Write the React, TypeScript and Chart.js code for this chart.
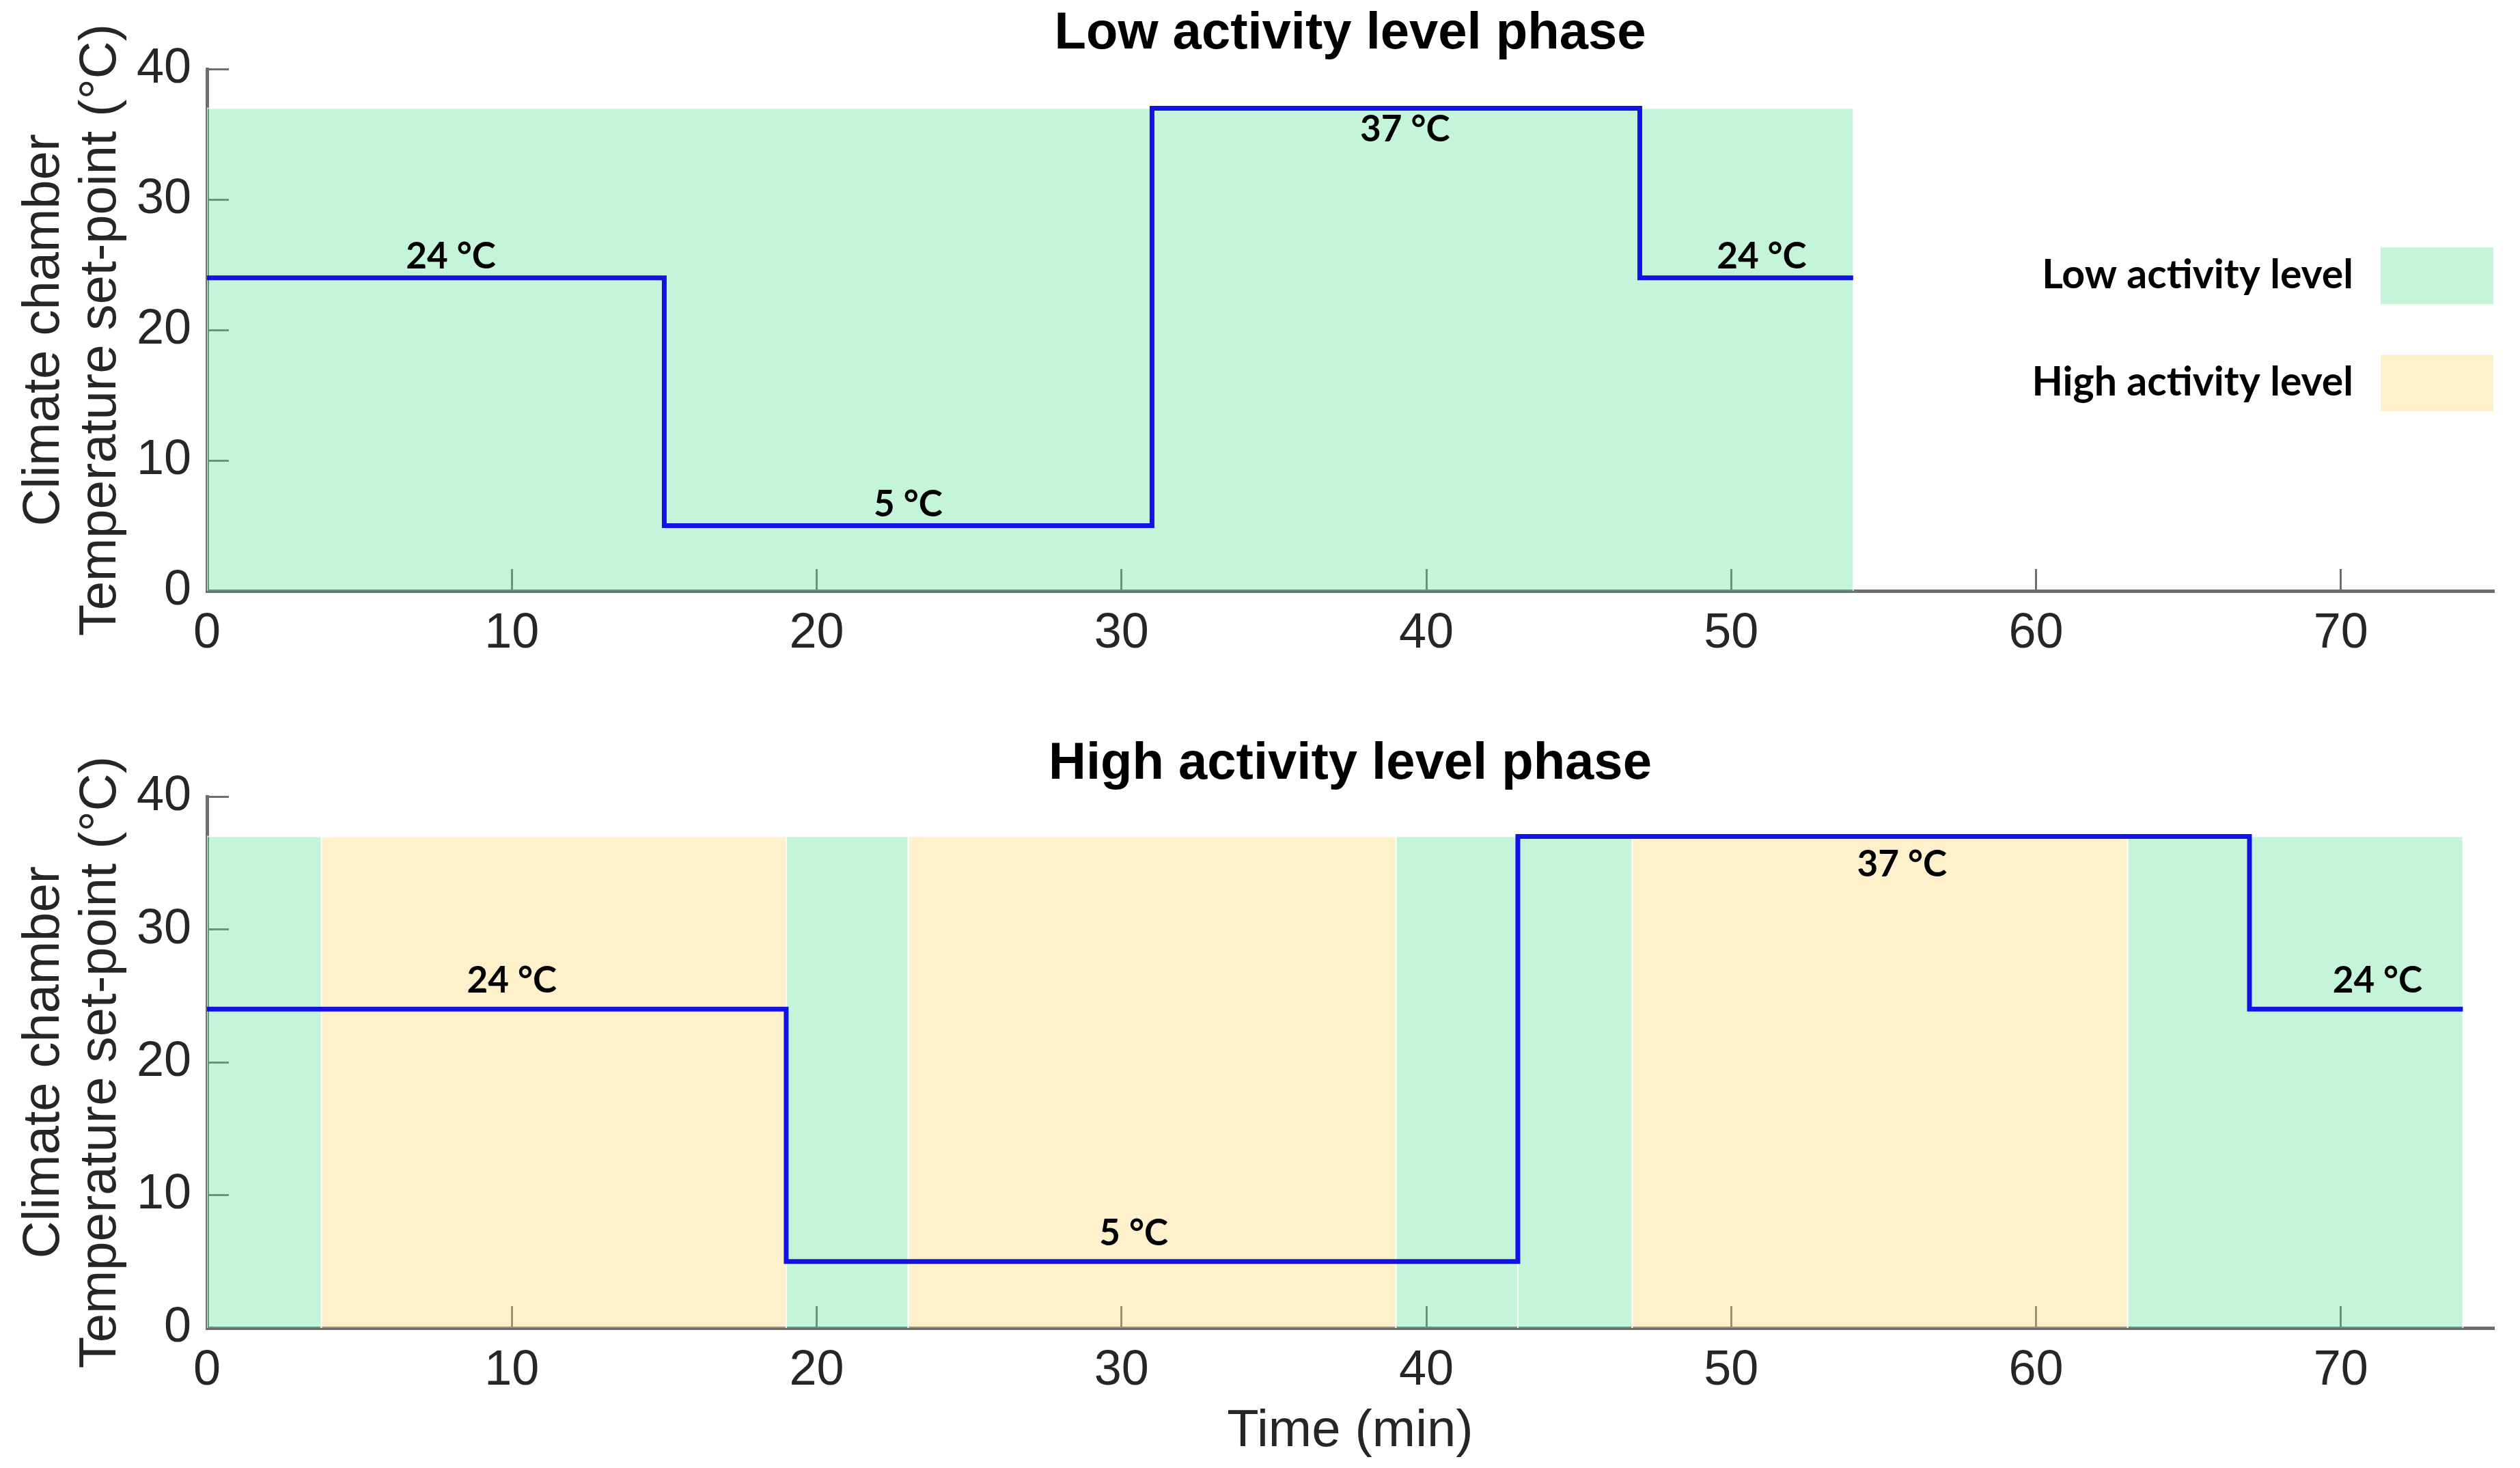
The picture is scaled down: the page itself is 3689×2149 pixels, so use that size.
import { useEffect, useRef } from "react";
import { Chart, registerables } from "chart.js";

Chart.register(...registerables);

// set-point schedule, low activity phase (minutes, °C)
const lowSegStart = [0, 15, 31, 47];
const lowSegEnd = [15, 31, 47, 54];
const lowTemps = [24, 5, 37, 24];
const lowLabelTimes = [8, 23, 39.3, 51];

// set-point schedule, high activity phase
const highSegStart = [0, 19, 43, 67];
const highSegEnd = [19, 43, 67, 74];
const highTemps = [24, 5, 37, 24];
const highLabelTimes = [10, 30.4, 55.6, 71.2];

// activity patches
const lowPhaseStart = [0];
const lowPhaseEnd = [54];
const lowPhaseKind = ["low"];
const highPhaseStart = [0, 3.75, 19, 23, 39, 43, 46.75, 63];
const highPhaseEnd = [3.75, 19, 23, 39, 43, 46.75, 63, 74];
const highPhaseKind = ["low", "high", "low", "high", "low", "low", "high", "low"];
const patchTop = 37;

const xTickStep = 10;
const yTickStep = 10;
const legendLabels = ["Low activity level", "High activity level"];

const W = 3689;
const TOP_H = 1010;
const BOT_H = 1139;

const ARIAL = "'Liberation Sans', Arial, sans-serif";
const CALIBRI = "Lato, 'Open Sans', sans-serif";
const GREEN = "rgba(86,226,149,0.35)";
const YELLOW = "rgba(255,212,109,0.35)";
const BLUE = "#1212e6";
const AXIS = "#6e6e6e";
const INK = "#262626";

function patchSets(starts: number[], ends: number[], kinds: string[]) {
  return starts.map((s, i) => ({
    type: "line" as const,
    data: [
      { x: s, y: 0 },
      { x: s, y: patchTop },
      { x: ends[i], y: patchTop },
      { x: ends[i], y: 0 },
    ],
    backgroundColor: kinds[i] === "low" ? GREEN : YELLOW,
    borderColor: "rgba(255,255,255,0.75)",
    borderWidth: 2,
    fill: "origin",
    pointRadius: 0,
    tension: 0,
    order: 2,
  }));
}

function stepSet(starts: number[], ends: number[], temps: number[]) {
  const pts: { x: number; y: number }[] = [];
  starts.forEach((s, i) => {
    pts.push({ x: s, y: temps[i] });
    pts.push({ x: ends[i], y: temps[i] });
  });
  return {
    type: "line" as const,
    data: pts,
    borderColor: BLUE,
    borderWidth: 7,
    borderJoinStyle: "miter" as const,
    fill: false,
    pointRadius: 0,
    tension: 0,
    order: 0,
  };
}

function labelPlugin(times: number[], temps: number[], gap: number) {
  return {
    id: "stepLabels",
    afterDatasetsDraw(chart: any) {
      const { ctx, scales } = chart;
      ctx.save();
      ctx.font = `bold 53px ${CALIBRI}`;
      ctx.fillStyle = "#000";
      ctx.textAlign = "center";
      ctx.textBaseline = "middle";
      const maxT = Math.max(...temps);
      temps.forEach((t, i) => {
        const px = scales.x.getPixelForValue(times[i]);
        const py = scales.y.getPixelForValue(t);
        // the highest level sits right under the patch top, so its label goes below the line
        ctx.fillText(`${t} °C`, px, t === maxT ? py + gap : py - gap);
      });
      ctx.restore();
    },
  };
}

const legendPlugin = {
  id: "phaseLegend",
  afterDraw(chart: any) {
    const { ctx, chartArea } = chart;
    const colors = [GREEN, YELLOW];
    ctx.save();
    ctx.font = `bold 59px ${CALIBRI}`;
    ctx.textAlign = "right";
    ctx.textBaseline = "middle";
    legendLabels.forEach((label, i) => {
      const cy = chartArea.top + 302 + i * 157;
      ctx.fillStyle = colors[i];
      ctx.fillRect(chartArea.right - 165, cy - 41, 165, 83);
      ctx.fillStyle = "#000";
      ctx.fillText(label, chartArea.right - 205, cy);
    });
    ctx.restore();
  },
};

function makeOptions(title: string, titlePad: { top: number; bottom: number }, xHeight: number, xTitle?: string) {
  const tickFont = { family: ARIAL, size: 72 };
  return {
    responsive: false,
    animation: false as const,
    devicePixelRatio: 1,
    layout: { padding: { left: 0, right: 39, top: 0, bottom: 0 } },
    plugins: {
      legend: { display: false },
      tooltip: { enabled: false },
      title: {
        display: true,
        text: title,
        fullSize: false,
        color: "#000",
        font: { family: ARIAL, size: 76, weight: "bold" as const },
        padding: titlePad,
      },
    },
    scales: {
      x: {
        type: "linear" as const,
        min: 0,
        max: 75,
        ticks: { stepSize: xTickStep, includeBounds: false, font: tickFont, color: INK, padding: 52, maxRotation: 0 },
        grid: { drawOnChartArea: false, tickLength: -32, color: AXIS, lineWidth: 3 },
        border: { display: true, color: AXIS, width: 5 },
        title: {
          display: !!xTitle,
          text: xTitle || "",
          color: INK,
          font: { family: ARIAL, size: 76 },
          padding: { top: 0, bottom: 7 },
        },
        afterFit(s: any) {
          s.height = xHeight;
        },
      },
      y: {
        min: 0,
        max: 40,
        ticks: { stepSize: yTickStep, font: tickFont, color: INK, padding: 55 },
        grid: { drawOnChartArea: false, tickLength: -32, color: AXIS, lineWidth: 3 },
        border: { display: true, color: AXIS, width: 5 },
        title: {
          display: true,
          text: ["Climate chamber", "Temperature set-point (°C)"],
          color: INK,
          font: { family: ARIAL, size: 76, lineHeight: 1.09 },
          padding: { top: 24, bottom: 0 },
        },
        afterFit(s: any) {
          s.width = 303;
        },
      },
    },
  };
}

export default function App() {
  const topRef = useRef<HTMLCanvasElement>(null);
  const botRef = useRef<HTMLCanvasElement>(null);

  useEffect(() => {
    document.body.style.margin = "0";
    document.body.style.overflow = "hidden";

    const top = new Chart(topRef.current!, {
      type: "line",
      data: {
        datasets: [
          stepSet(lowSegStart, lowSegEnd, lowTemps),
          ...patchSets(lowPhaseStart, lowPhaseEnd, lowPhaseKind),
        ] as any,
      },
      options: makeOptions("Low activity level phase", { top: 4, bottom: 6 }, 145) as any,
      plugins: [labelPlugin(lowLabelTimes, lowTemps, 31), legendPlugin],
    });

    const bottom = new Chart(botRef.current!, {
      type: "line",
      data: {
        datasets: [
          stepSet(highSegStart, highSegEnd, highTemps),
          ...patchSets(highPhaseStart, highPhaseEnd, highPhaseKind),
        ] as any,
      },
      options: makeOptions("High activity level phase", { top: 63, bottom: 2 }, 205, "Time (min)") as any,
      plugins: [labelPlugin(highLabelTimes, highTemps, 41)],
    });

    return () => {
      top.destroy();
      bottom.destroy();
    };
  }, []);

  return (
    <div style={{ position: "absolute", left: 0, top: 0, width: W, height: TOP_H + BOT_H, background: "#fff" }}>
      <canvas ref={topRef} width={W} height={TOP_H} style={{ display: "block", width: W, height: TOP_H }} />
      <canvas ref={botRef} width={W} height={BOT_H} style={{ display: "block", width: W, height: BOT_H }} />
    </div>
  );
}
